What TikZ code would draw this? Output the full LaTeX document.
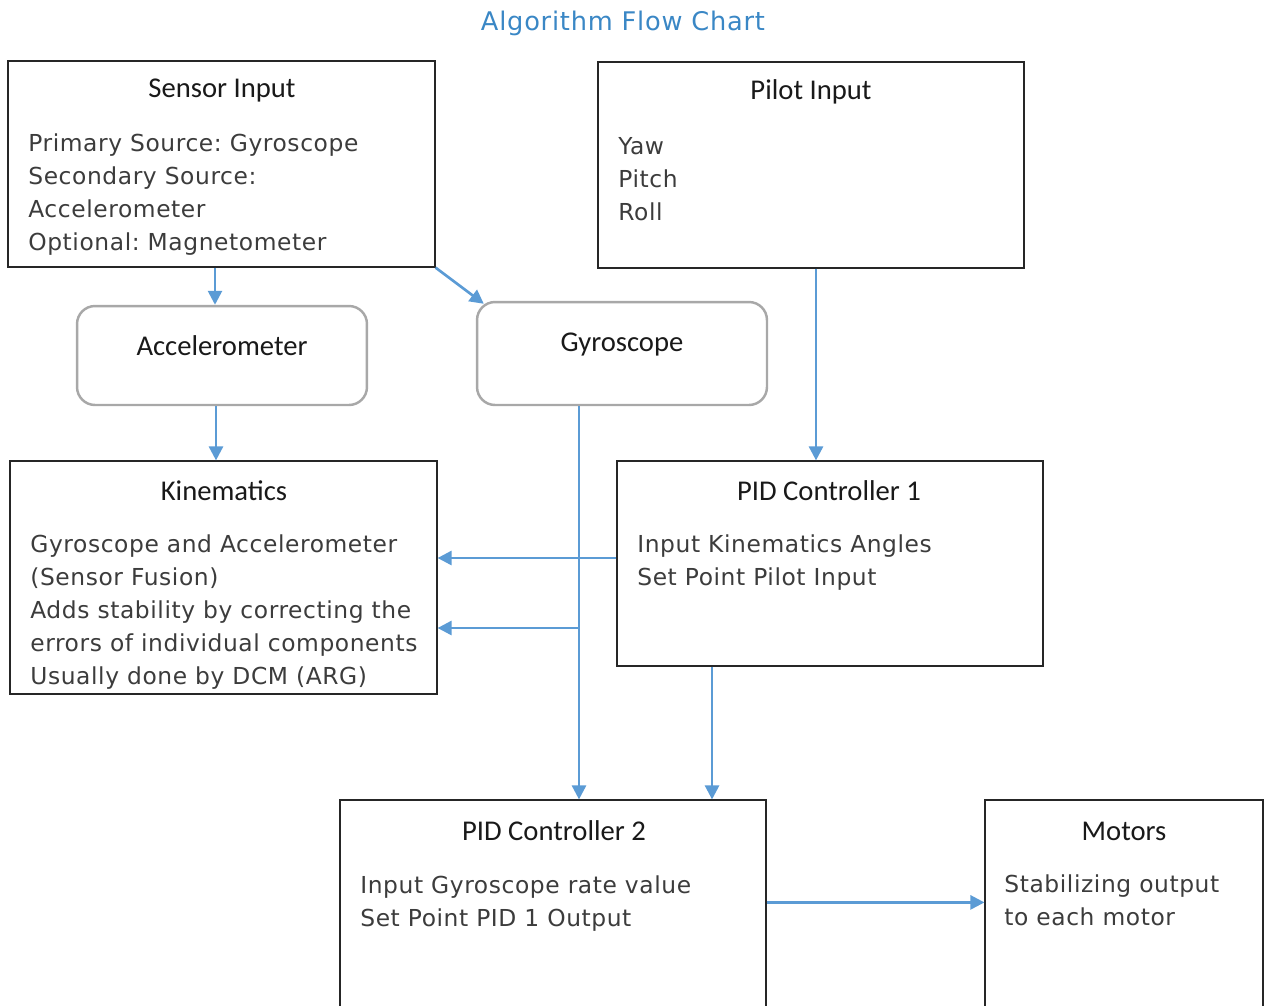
\documentclass[tikz,border=0pt]{standalone}
\usepackage{fontspec}
\setmainfont[LetterSpace=2.5]{DejaVu Sans}
\newfontfamily\headfont{Carlito}
\newfontfamily\chartfont[LetterSpace=3]{DejaVu Sans}
\usetikzlibrary{arrows.meta}
\usetikzlibrary{positioning}

\definecolor{linkblue}{HTML}{5B9BD5}
\definecolor{titleblue}{HTML}{3A87C5}
\definecolor{bodygray}{HTML}{3C3C3C}
\definecolor{roundgray}{HTML}{A8A8A8}

\begin{document}
\frenchspacing
\begin{tikzpicture}[x=0.02cm,y=-0.02cm]
    \tikzset{
      block/.style={
        rectangle,
        draw=black!85,
        line width=0.7pt,
        inner sep=0mm
      },
      soft/.style={
        rectangle,
        draw=roundgray,
        line width=1.4pt,
        rounded corners=0.36cm,
        inner sep=0mm
      },
      heading/.style={
        font=\headfont\fontsize{16.3}{19}\selectfont,
        text=black!90,
        inner sep=0mm
      },
      body/.style={
        font=\fontsize{13.3}{18.9}\selectfont,
        text=bodygray,
        align=left,
        anchor=north west,
        inner sep=0mm
      },
      link/.style={
        draw=linkblue,
        line width=1.5pt,
        -{Triangle[length=0.28cm,width=0.28cm]}
      }
    }

    \clip (0,0) rectangle (1266,1005);

    %Chart title
    \node[font=\chartfont\fontsize{14.6}{17}\selectfont, text=titleblue] (title) at (623,23) {Algorithm Flow Chart};

    %Sensor input
    \node[block, minimum width=8.54cm, minimum height=4.12cm] (sensor) at (221.5,164) {};
    \node[heading] (sensorT) at (222,91) {Sensor Input};
    \node[body] (sensorB) at (28,133) {Primary Source: Gyroscope\\Secondary Source:\\Accelerometer\\Optional: Magnetometer};

    %Pilot input
    \node[block, minimum width=8.52cm, minimum height=4.12cm] (pilot) at (811,165) {};
    \node[heading] (pilotT) at (811,92) {Pilot Input};
    \node[body] (pilotB) at (618,137) {Yaw\\Pitch\\Roll};

    %Accelerometer
    \node[soft, minimum width=5.8cm, minimum height=1.98cm] (accel) at (222,355.5) {};
    \node[heading] (accelT) at (222,346) {Accelerometer};

    %Gyroscope
    \node[soft, minimum width=5.8cm, minimum height=2.06cm] (gyro) at (622,353.5) {};
    \node[heading] (gyroT) at (622,345) {Gyroscope};

    %Kinematics
    \node[block, minimum width=8.54cm, minimum height=4.66cm] (kin) at (223.5,577.5) {};
    \node[heading] (kinT) at (224,491) {Kinematics};
    \begin{scope}
      \clip (kin.north west) rectangle (kin.south east);
      \node[body] (kinB) at (30,534) {Gyroscope and Accelerometer\\(Sensor Fusion)\\Adds stability by correcting the\\errors of individual components\\Usually done by DCM (ARG)};
    \end{scope}

    %PID controller 1
    \node[block, minimum width=8.52cm, minimum height=4.1cm] (pid1) at (830,563.5) {};
    \node[heading] (pid1T) at (829,491) {PID Controller 1};
    \node[body] (pid1B) at (637,534) {Input Kinematics Angles\\Set Point Pilot Input};

    %PID controller 2
    \node[block, minimum width=8.52cm, minimum height=6cm] (pid2) at (553,950) {};
    \node[heading] (pid2T) at (554,831) {PID Controller 2};
    \node[body] (pid2B) at (360,875) {Input Gyroscope rate value\\Set Point PID 1 Output};

    %Motors
    \node[block, minimum width=5.56cm, minimum height=6cm] (motors) at (1124,950) {};
    \node[heading] (motorsT) at (1124,831) {Motors};
    \node[body] (motorsB) at (1004,874) {Stabilizing output\\to each motor};

    %Gyroscope branch point
    \coordinate (branch) at (579,628);

    %Connectors
    \draw[link] ([xshift=-0.13cm]sensor.south) -- ([xshift=-0.13cm]sensor.south |- accel.north);
    \draw[link] (sensor.south east) -- ([xshift=0.16cm,yshift=-0.06cm]gyro.north west);
    \draw[link] ([xshift=0.1cm]pilot.south) -- ([xshift=0.1cm]pilot.south |- pid1.north);
    \draw[link] ([xshift=-0.12cm]accel.south) -- ([xshift=-0.12cm]accel.south |- kin.north);
    \draw[link] ([yshift=0.11cm]pid1.west) -- ([yshift=0.11cm]pid1.west -| kin.east);
    \draw[link] (gyro.south -| branch) -- (branch) -- (branch |- pid2.north);
    \draw[link] (branch) -- (branch -| kin.east);
    \draw[link] ([xshift=-2.36cm]pid1.south) -- ([xshift=-2.36cm]pid1.south |- pid2.north);
    \draw[link] ([yshift=-2.06cm]pid2.north east) -- ([yshift=-2.06cm]pid2.north east -| motors.west);
\end{tikzpicture}
\end{document}
